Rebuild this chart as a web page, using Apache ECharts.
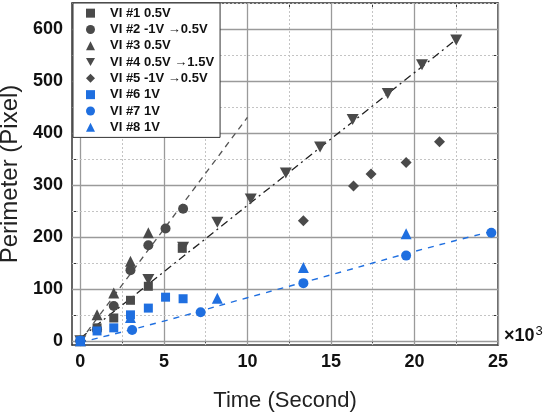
<!DOCTYPE html>
<html>
<head>
<meta charset="utf-8">
<script src="https://cdn.jsdelivr.net/npm/echarts@6/dist/echarts.min.js"></script>
<style>
  html, body { margin: 0; padding: 0; background: #fff; }
  #chart { width: 553px; height: 414px; }
</style>
</head>
<body>
<div id="chart"></div>
<script>
// ticks (x in units of 10^3 s)
const xMajor = [0, 5, 10, 15, 20, 25];
const xMinor = [2.5, 7.5, 12.5, 17.5, 22.5];
const yMajor = [0, 100, 200, 300, 400, 500, 600];
const yMinor = [50, 150, 250, 350, 450, 550, 650];

const names = [
  'VI #1 0.5V',
  'VI #2 -1V \u21920.5V',
  'VI #3 0.5V',
  'VI #4 0.5V \u21921.5V',
  'VI #5 -1V \u21920.5V',
  'VI #6 1V',
  'VI #7 1V',
  'VI #8 1V'
];

// [time ×10^3 s, perimeter px]
const vi1 = [[0, 0], [1, 25], [2, 44], [3, 78], [4.07, 105], [6.1, 178]];
const vi2 = [[0, 0], [1, 22], [2, 67], [3, 136], [4.07, 184], [5.1, 216], [6.15, 254]];
const vi3 = [[0, 0], [1, 50], [2, 92], [3, 153], [4.07, 208]];
const vi4 = [[0, 0], [4.07, 118], [6.15, 180], [8.2, 228], [10.2, 273], [12.3, 323],
             [14.35, 373], [16.3, 426], [18.4, 476], [20.45, 531], [22.5, 579]];
const vi5 = [[0, 0], [13.35, 231], [16.35, 298], [17.4, 321], [19.5, 343], [21.5, 383]];
const vi6 = [[0, 0], [1, 19], [2, 25], [3, 50], [4.07, 63], [5.1, 84], [6.15, 81]];
const vi7 = [[0, 0], [3.1, 21], [7.2, 55], [13.35, 111], [19.5, 164], [24.6, 208]];
const vi8 = [[0, 0], [3, 45], [8.2, 82], [13.35, 141], [19.5, 206]];

// fitted trend lines
const fitSteep = [[0, 0], [10, 430]];
const fitMid = [[0, 5], [22.5, 580]];
const fitBlue = [[0, -3], [5, 38], [10, 83], [15, 127], [20, 172], [24.8, 212]];

const grey = '#4a4a4a';
const blue = '#1f6fe0';
const downTri = 'path://M0,0 L10,0 L5,9 Z';
const font = 'Arial, Liberation Sans, sans-serif';

const chart = echarts.init(document.getElementById('chart'));

const majorStyle = { color: '#9a9a9a', width: 1.3, type: 'solid' };
const minorStyle = { color: '#c4c4c4', width: 1, type: [2, 2] };
const gridLines = []
  .concat(xMajor.map(v => ({ xAxis: v, lineStyle: majorStyle })))
  .concat(xMinor.map(v => ({ xAxis: v, lineStyle: minorStyle })))
  .concat(yMajor.map(v => ({ yAxis: v, lineStyle: majorStyle })))
  .concat(yMinor.map(v => ({ yAxis: v, lineStyle: minorStyle })));

const axisLine = { show: true, onZero: false, lineStyle: { color: '#333', width: 1.5 } };
const tickStyle = { show: true, inside: true, length: 5, lineStyle: { color: '#333', width: 1 } };
const labelFont = { color: '#111', fontSize: 18, fontWeight: 'bold', fontFamily: font };
const nameFont = { color: '#222', fontSize: 22, fontFamily: font };

function scatter(name, data, symbol, size, color) {
  return {
    name: name, type: 'scatter', data: data, symbol: symbol, symbolSize: size,
    itemStyle: { color: color, opacity: 1 }, clip: false, z: 5
  };
}

const option = {
  animation: false,
  grid: { left: 72, right: 55, top: 3, bottom: 69, containLabel: false, outerBoundsMode: 'none' },
  xAxis: [
    {
      type: 'value', min: -0.5, max: 25,
      axisLine: axisLine,
      axisTick: Object.assign({ customValues: xMajor.concat(xMinor) }, tickStyle),
      axisLabel: Object.assign({ customValues: xMajor, margin: 8 }, labelFont),
      splitLine: { show: false },
      name: 'Time (Second)', nameLocation: 'middle', nameGap: 45,
      nameTextStyle: nameFont
    },
    {
      type: 'value', min: -0.5, max: 25, position: 'top',
      axisLine: axisLine,
      axisTick: Object.assign({ customValues: xMajor.concat(xMinor) }, tickStyle),
      axisLabel: { show: false }, splitLine: { show: false }
    }
  ],
  yAxis: [
    {
      type: 'value', min: -8, max: 650,
      axisLine: axisLine,
      axisTick: Object.assign({ customValues: yMajor.concat(yMinor) }, tickStyle),
      axisLabel: Object.assign({ customValues: yMajor, margin: 9 }, labelFont),
      splitLine: { show: false },
      name: 'Perimeter (Pixel)', nameLocation: 'middle', nameGap: 40,
      nameTextStyle: Object.assign({}, nameFont, { fontSize: 24 })
    },
    {
      type: 'value', min: -8, max: 650, position: 'right',
      axisLine: axisLine,
      axisTick: Object.assign({ customValues: yMajor.concat(yMinor) }, tickStyle),
      axisLabel: { show: false }, splitLine: { show: false }
    }
  ],
  legend: {
    orient: 'vertical', left: 73, top: 3,
    padding: [3, 6, 3, 13],
    itemGap: 2, itemWidth: 9, itemHeight: 9,
    backgroundColor: '#fff', borderColor: '#333', borderWidth: 1, borderRadius: 0,
    data: names,
    textStyle: { color: '#111', fontSize: 13, fontWeight: 'bold', fontFamily: font, lineHeight: 14.3, padding: [0, 0, 0, 10] },
    z: 10
  },
  graphic: [{
    type: 'text', left: 504, top: 325,
    style: {
      text: '{a|\u00d710}{b|3}',
      rich: {
        a: { fontSize: 18, fontWeight: 'bold', fill: '#111', fontFamily: font },
        b: { fontSize: 13, fill: '#111', verticalAlign: 'top', padding: [0, 0, 9, 1], fontFamily: font }
      }
    }
  }],
  series: [
    {
      type: 'line', data: fitSteep, symbol: 'none', silent: true, z: 3,
      lineStyle: { color: '#555', width: 1.3, type: [6, 5] },
      markLine: { silent: true, symbol: 'none', label: { show: false }, data: gridLines, z: 1 }
    },
    {
      type: 'line', data: fitMid, symbol: 'none', silent: true, z: 3,
      lineStyle: { color: '#222', width: 1.3, type: [8, 4, 2, 4] }
    },
    {
      type: 'line', data: fitBlue, symbol: 'none', smooth: true, silent: true, z: 3,
      lineStyle: { color: blue, width: 1.4, type: [6, 6] }
    },
    scatter(names[0], vi1, 'rect', 9, grey),
    scatter(names[1], vi2, 'circle', 10, grey),
    scatter(names[2], vi3, 'triangle', 11, grey),
    scatter(names[3], vi4, downTri, [12, 11], grey),
    scatter(names[4], vi5, 'diamond', 11, grey),
    scatter(names[5], vi6, 'rect', 9, blue),
    scatter(names[6], vi7, 'circle', 10, blue),
    scatter(names[7], vi8, 'triangle', 11, blue)
  ]
};

chart.setOption(option);
</script>
</body>
</html>
